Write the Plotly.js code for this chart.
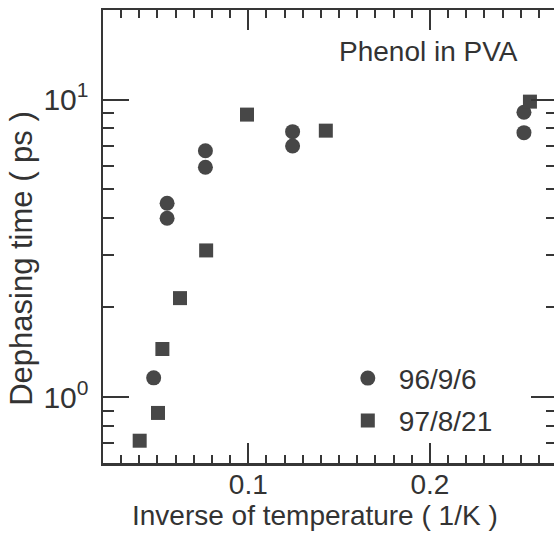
<!DOCTYPE html>
<html>
<head>
<meta charset="utf-8">
<script src="https://cdn.plot.ly/plotly-3.0.1.min.js"></script>
<style>
html,body{margin:0;padding:0;overflow:hidden;background:#fff;width:554px;height:536px;}
#chart{position:absolute;left:0;top:0;}
</style>
</head>
<body>
<div id="chart"></div>
<script>
// Series 96/9/6 (circles)
const x96 = [0.0479, 0.0553, 0.0553, 0.0764, 0.0764, 0.1244, 0.1244, 0.2518, 0.2518];
const y96 = [1.16, 4.48, 3.99, 6.73, 5.92, 7.80, 6.98, 9.06, 7.74];
// Series 97/8/21 (squares)
const x97 = [0.0402, 0.0503, 0.0527, 0.0624, 0.0768, 0.0993, 0.1427, 0.2551];
const y97 = [0.713, 0.884, 1.45, 2.15, 3.11, 8.90, 7.86, 9.84];
// Axis ticks
const yTickVals = [1, 10];
const yTickText = ['10<sup>0</sup>', '10<sup>1</sup>'];
const yMinorVals = [0.6, 0.7, 0.8, 0.9, 2, 3, 4, 5, 6, 7, 8, 9, 20];
const xTickVals = [0.1, 0.2];
const xTickText = ['0.1', '0.2'];
const xTitle = 'Inverse of temperature ( 1/K )';
const yTitle = 'Dephasing time ( ps )';
const note = 'Phenol in PVA';

const FONT = 'Liberation Sans, Arial, Helvetica, sans-serif';
const INK = '#363636';
const MARK = '#474747';

const traces = [
  {x: x96, y: y96, type: 'scatter', mode: 'markers', name: '96/9/6', legendgroup: 'a',
   marker: {symbol: 'circle', size: 15, color: MARK}},
  {x: x97, y: y97, type: 'scatter', mode: 'markers', name: '97/8/21', legendgroup: 'b',
   marker: {symbol: 'square', size: 14, color: MARK}}
];

const layout = {
  width: 560, height: 536,
  margin: {l: 103, r: 3, t: 10, b: 73},
  paper_bgcolor: '#fff', plot_bgcolor: '#fff',
  font: {family: FONT, color: '#333', size: 26},
  showlegend: true,
  legend: {x: 0.515, xanchor: 'left', y: 0.242, yanchor: 'top', bgcolor: 'rgba(0,0,0,0)',
           font: {family: FONT, size: 28, color: '#333'}, itemwidth: 52, tracegroupgap: 3},
  xaxis: {
    range: [0.02, 0.27], showline: true, linewidth: 2.5, linecolor: INK, mirror: 'allticks',
    ticks: 'inside', ticklen: 20, tickwidth: 2, tickcolor: INK,
    tickmode: 'array', tickvals: xTickVals, ticktext: xTickText,
    tickfont: {family: FONT, size: 28, color: '#333'}, ticklabelstandoff: -5,
    minor: {ticks: 'inside', ticklen: 8, tickwidth: 2, tickcolor: INK, dtick: 0.01, tick0: 0},
    showgrid: false, zeroline: false
  },
  yaxis: {
    type: 'log', range: [Math.log10(0.6), Math.log10(20)],
    showline: true, linewidth: 2.5, linecolor: INK, mirror: 'allticks',
    ticks: 'inside', ticklen: 26, tickwidth: 2, tickcolor: INK,
    tickmode: 'array', tickvals: yTickVals, ticktext: yTickText,
    tickfont: {family: FONT, size: 30, color: '#333'}, ticklabelstandoff: 6,
    minor: {ticks: 'inside', ticklen: 11, tickwidth: 2, tickcolor: INK, tickmode: 'array', tickvals: yMinorVals},
    showgrid: false, zeroline: false
  },
  annotations: [
    {text: note, xref: 'paper', yref: 'paper', x: 0.9185, y: 0.909,
     xanchor: 'right', yanchor: 'middle', showarrow: false,
     font: {family: FONT, size: 28, color: '#333'}},
    {text: xTitle, xref: 'paper', yref: 'paper', x: 0.467, y: -0.115,
     xanchor: 'center', yanchor: 'middle', showarrow: false,
     font: {family: FONT, size: 28, color: '#333'}},
    {text: yTitle, xref: 'paper', yref: 'paper', x: -0.181, y: 0.4525, textangle: -90,
     xanchor: 'center', yanchor: 'middle', showarrow: false,
     font: {family: FONT, size: 31, color: '#333'}}
  ]
};

Plotly.newPlot('chart', traces, layout, {displayModeBar: false, staticPlot: true});
</script>
</body>
</html>
